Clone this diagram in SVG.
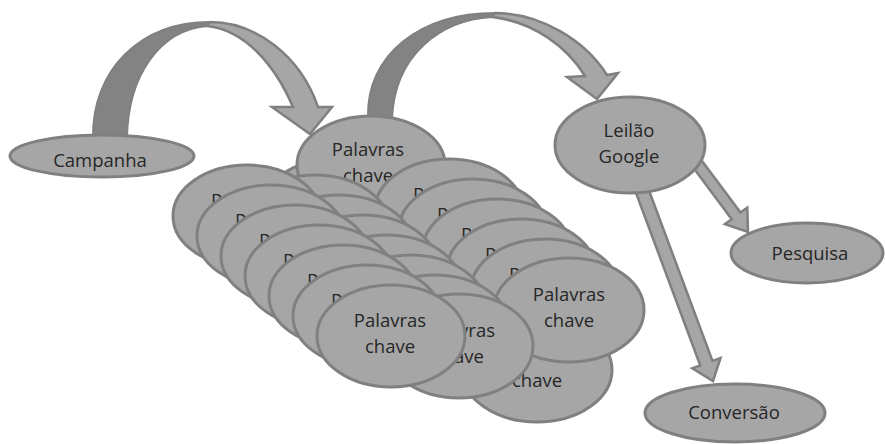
<svg xmlns="http://www.w3.org/2000/svg" width="885" height="444" viewBox="0 0 885 444">
<style>
.n{fill:#a6a6a6;stroke:#808080;stroke-width:3}
.t{font-family:"Open Sans","DejaVu Sans",sans-serif;font-size:18.5px;fill:#262626;text-anchor:middle}
.s{text-anchor:start}
.e{text-anchor:end}
.dk{fill:#838383;stroke:#808080;stroke-width:2}
.lt{fill:#a6a6a6;stroke:#808080;stroke-width:2.5;stroke-linejoin:miter}
</style>
<rect width="885" height="444" fill="#ffffff"/>
<g id="connectors">
<path class="dk" d="M93,138 C92,70 140,22 210,22 L207,26 C160,30 128,75 127,138 Z"/>
<path class="lt" d="M210,22 C255,22 300,55 318,107 L332,107 L310,134 L272,107 L293,107 C275,65 245,30 207,26 Z"/>
<path class="dk" d="M368,118 C366,55 420,13 495,13 L492,17 C440,20 395,55 392,118 Z"/>
<path class="lt" d="M495,13 C540,13 585,40 607,75 L618,73 L597,99 L567,77 L585,76 C568,48 535,22 492,17 Z"/>
<polygon class="lt" points="694.4,150.7 740.5,212.6 747.3,207.6 748,232 724.9,224.2 731.7,219.2 685.6,157.3"/>
<polygon class="lt" points="646.1,182.7 712.5,360.9 720.5,358 713,381 692.3,368.4 700.3,365.5 633.9,187.3"/>
</g>
<g id="campanha"><ellipse class="n" cx="102" cy="156" rx="92" ry="21"/><text class="t" x="100" y="167">Campanha</text></g>
<g id="leilao"><ellipse class="n" cx="630" cy="145" rx="75" ry="48"/><text class="t" x="629" y="137">Leilão</text><text class="t" x="629" y="163">Google</text></g>
<g id="pesquisa"><ellipse class="n" cx="807" cy="253" rx="76" ry="30"/><text class="t" x="810" y="260">Pesquisa</text></g>
<g id="conversao"><ellipse class="n" cx="735" cy="413" rx="90" ry="29"/><text class="t" x="734" y="419">Conversão</text></g>
<g id="kw-b0"><ellipse class="n" cx="335" cy="210" rx="74" ry="51"/></g>
<g id="kw-top"><ellipse class="n" cx="371" cy="165" rx="74" ry="49"/><text class="t" x="368" y="156">Palavras</text><text class="t" x="368" y="182">chave</text></g>
<g id="kw-c"><ellipse class="n" cx="537" cy="370" rx="75" ry="52"/><text class="t" x="537" y="387">chave</text></g>
<g id="kw-r0"><ellipse class="n" cx="449" cy="210" rx="74" ry="51"/><text class="t s" x="413" y="201">Pal</text></g>
<g id="kw-r1"><ellipse class="n" cx="473" cy="230" rx="74" ry="51"/><text class="t s" x="437" y="221">P</text></g>
<g id="kw-r2"><ellipse class="n" cx="497" cy="250" rx="74" ry="51"/><text class="t s" x="461" y="241">P</text></g>
<g id="kw-r3"><ellipse class="n" cx="521" cy="270" rx="74" ry="51"/><text class="t s" x="485" y="261">P</text></g>
<g id="kw-r4"><ellipse class="n" cx="545" cy="290" rx="74" ry="51"/><text class="t s" x="509" y="281">P</text></g>
<g id="kw-r5"><ellipse class="n" cx="569" cy="310" rx="75" ry="52"/><text class="t" x="569" y="301">Palavras</text><text class="t" x="569" y="327">chave</text></g>
<g id="kw-m0"><ellipse class="n" cx="315" cy="226" rx="74" ry="51"/></g>
<g id="kw-m1"><ellipse class="n" cx="339" cy="246" rx="74" ry="51"/></g>
<g id="kw-m2"><ellipse class="n" cx="363" cy="266" rx="74" ry="51"/></g>
<g id="kw-m3"><ellipse class="n" cx="387" cy="286" rx="74" ry="51"/></g>
<g id="kw-m4"><ellipse class="n" cx="411" cy="306" rx="74" ry="51"/></g>
<g id="kw-m5"><ellipse class="n" cx="435" cy="326" rx="74" ry="51"/></g>
<g id="kw-m6"><ellipse class="n" cx="459" cy="346" rx="74" ry="52"/><text class="t e" x="495" y="337">vras</text><text class="t e" x="484" y="363">ave</text></g>
<g id="kw-l0"><ellipse class="n" cx="247" cy="216" rx="74" ry="51"/><text class="t s" x="211" y="207">P</text></g>
<g id="kw-l1"><ellipse class="n" cx="271" cy="236" rx="74" ry="51"/><text class="t s" x="235" y="227">P</text></g>
<g id="kw-l2"><ellipse class="n" cx="295" cy="256" rx="74" ry="51"/><text class="t s" x="259" y="247">P</text></g>
<g id="kw-l3"><ellipse class="n" cx="319" cy="276" rx="74" ry="51"/><text class="t s" x="283" y="267">P</text></g>
<g id="kw-l4"><ellipse class="n" cx="343" cy="296" rx="74" ry="51"/><text class="t s" x="307" y="287">P</text></g>
<g id="kw-l5"><ellipse class="n" cx="367" cy="316" rx="74" ry="51"/><text class="t s" x="331" y="307">P</text></g>
<g id="kw-l6"><ellipse class="n" cx="391" cy="336" rx="74" ry="51"/><text class="t" x="390" y="327">Palavras</text><text class="t" x="390" y="353">chave</text></g>
</svg>
